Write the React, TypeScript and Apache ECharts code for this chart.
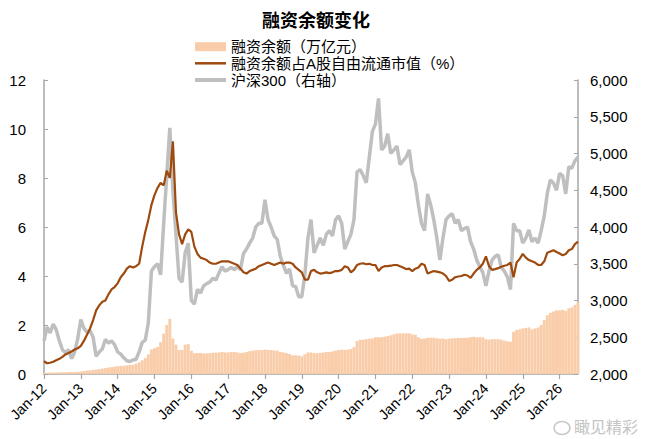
import React, { useEffect, useRef } from "react";
import * as echarts from "echarts";

const MONTHS = ["Jan", "Feb", "Mar", "Apr", "May", "Jun", "Jul", "Aug", "Sep", "Oct", "Nov", "Dec"];
const FIRST_YEAR = 12;
const LAST_YEAR = 26;
const LAST_MONTH_OF_LAST_YEAR = 7;

const categories: string[] = [];
for (let y = FIRST_YEAR; y <= LAST_YEAR; y++) {
  const n = y === LAST_YEAR ? LAST_MONTH_OF_LAST_YEAR : 12;
  for (let m = 0; m < n; m++) categories.push(`${MONTHS[m]}-${y}`);
}

// 融资余额（万亿元） monthly
const marginBalance = [
  0.04, 0.05, 0.06, 0.06, 0.06, 0.07, 0.07, 0.07, 0.08, 0.08, 0.08, 0.09,
  0.10, 0.12, 0.14, 0.15, 0.17, 0.18, 0.20, 0.22, 0.24, 0.26, 0.28, 0.30,
  0.32, 0.33, 0.34, 0.36, 0.37, 0.38, 0.42, 0.48, 0.56, 0.65, 0.80, 1.00,
  1.05, 1.10, 1.30, 1.65, 2.00, 2.25, 1.45, 1.20, 0.98, 0.98, 1.20, 1.22,
  0.95, 0.85, 0.85, 0.86, 0.84, 0.84, 0.85, 0.87, 0.87, 0.88, 0.90, 0.88,
  0.88, 0.90, 0.90, 0.88, 0.86, 0.87, 0.90, 0.93, 0.95, 0.97, 0.98, 0.98,
  1.00, 0.98, 0.98, 0.96, 0.95, 0.90, 0.88, 0.85, 0.82, 0.76, 0.76, 0.75,
  0.72, 0.80, 0.88, 0.88, 0.85, 0.85, 0.86, 0.88, 0.90, 0.90, 0.92, 0.95,
  0.98, 1.00, 0.98, 1.00, 1.02, 1.10, 1.35, 1.40, 1.40, 1.42, 1.44, 1.45,
  1.50, 1.50, 1.50, 1.52, 1.55, 1.58, 1.62, 1.65, 1.66, 1.66, 1.66, 1.66,
  1.62, 1.60, 1.50, 1.43, 1.45, 1.48, 1.48, 1.48, 1.46, 1.44, 1.45, 1.42,
  1.44, 1.46, 1.46, 1.47, 1.47, 1.48, 1.48, 1.50, 1.52, 1.50, 1.50, 1.50,
  1.42, 1.40, 1.42, 1.42, 1.42, 1.40, 1.36, 1.33, 1.32, 1.72, 1.80, 1.82,
  1.86, 1.88, 1.90, 1.82, 1.86, 1.90, 2.00, 2.20, 2.40, 2.50, 2.55, 2.60,
  2.60, 2.62, 2.58, 2.68, 2.72, 2.82, 2.92,
];

// 融资余额占A股自由流通市值（%） monthly
const marginRatio = [
  0.52, 0.44, 0.46, 0.50, 0.56, 0.62, 0.70, 0.80, 0.86, 0.92, 1.00, 1.05,
  1.15, 1.35, 1.60, 1.85, 2.20, 2.60, 2.80, 2.95, 3.00, 3.25, 3.45, 3.55,
  3.70, 3.95, 4.10, 4.30, 4.40, 4.35, 4.40, 4.50, 5.20, 5.80, 6.30, 6.90,
  7.30, 7.60, 7.80, 7.70, 8.30, 8.00, 9.50, 6.60, 5.70, 5.30, 5.70, 5.90,
  5.80, 5.20, 4.90, 4.75, 4.70, 4.65, 4.55, 4.50, 4.50, 4.55, 4.60, 4.60,
  4.60, 4.55, 4.50, 4.45, 4.30, 4.15, 4.10, 4.20, 4.25, 4.30, 4.40, 4.45,
  4.50, 4.55, 4.50, 4.45, 4.50, 4.55, 4.50, 4.55, 4.55, 4.50, 4.35, 4.25,
  4.15, 3.85, 3.85, 4.20, 4.25, 4.15, 4.10, 4.12, 4.15, 4.12, 4.15, 4.20,
  4.20, 4.25, 4.40, 4.35, 4.15, 4.25, 4.45, 4.50, 4.52, 4.48, 4.50, 4.45,
  4.45, 4.20, 4.35, 4.40, 4.40, 4.42, 4.45, 4.45, 4.40, 4.35, 4.28, 4.30,
  4.20, 4.30, 4.35, 4.50, 4.45, 4.10, 4.15, 4.20, 4.18, 4.15, 4.10, 4.00,
  3.80, 3.85, 3.95, 3.98, 4.00, 4.05, 4.02, 3.92, 4.10, 4.25, 4.35, 4.50,
  4.80, 4.40, 4.25, 4.28, 4.32, 4.38, 4.42, 4.45, 4.55, 3.95, 4.55, 4.70,
  4.90, 4.75, 4.65, 4.60, 4.55, 4.45, 4.45, 4.60, 4.95, 5.00, 5.05, 4.98,
  4.92, 4.85, 4.90, 5.05, 5.10, 5.30, 5.40,
];

// 沪深300 monthly
const csi300 = [
  2450, 2640, 2560, 2680, 2600, 2450, 2330, 2290, 2330, 2210, 2300, 2480,
  2740, 2620, 2570, 2590, 2500, 2240, 2300, 2340, 2470, 2420, 2450, 2400,
  2300, 2270, 2220, 2180, 2170, 2190, 2200, 2300, 2430, 2460, 2700, 3400,
  3460, 3500, 3350, 4050, 4700, 5350, 4500, 3900, 3300, 3250, 3650, 3780,
  3000, 2950, 3150, 3100, 3200, 3230, 3250, 3300, 3280, 3370, 3460, 3400,
  3420, 3450, 3420, 3460, 3420, 3640, 3700, 3780, 3850, 4000, 4050, 4050,
  4370, 4100, 4000, 3880, 3830, 3600, 3480, 3370, 3430, 3200, 3190, 3050,
  3050, 3350, 3850, 4100, 3650, 3750, 3850, 3750, 3900, 3950, 3880, 4100,
  4150, 4050, 3700, 3800, 3900, 4100, 4750, 4780, 4700, 4600, 4950, 5300,
  5400, 5750, 5050, 5100, 5270, 5000, 5050, 5100, 4850, 4900, 4950, 5050,
  4750, 4600, 4300, 4050, 3950, 4450, 4300, 4100, 3850, 3550, 3850, 4100,
  4150, 4180, 4050, 4100, 3950, 3980, 4000, 3800, 3700, 3550, 3460, 3380,
  3200, 3400, 3550, 3600, 3620, 3450, 3400, 3320, 3150, 4050, 3950, 3950,
  3780, 3850, 3960, 3800, 3850, 3780, 3950, 4150, 4460, 4640, 4600, 4500,
  4730, 4700, 4450, 4820, 4800, 4900, 4950,
];

const NAME_BAR = "融资余额（万亿元）";
const NAME_RATIO = "融资余额占A股自由流通市值（%）";
const NAME_CSI = "沪深300（右轴）";

const FONT = "'Liberation Sans', 'Noto Sans CJK SC', sans-serif";
const AXIS_COLOR = "#A6A6A6";
const BAR_COLOR = "#F9CDA9";
const BROWN = "#9E4A0E";
const GRAY = "#BFBFBF";

export default function App() {
  const ref = useRef<HTMLDivElement>(null);

  useEffect(() => {
    if (!ref.current) return;
    const chart = echarts.init(ref.current, undefined, { renderer: "svg" });

    const legendBase = {
      left: 195,
      padding: 0,
      icon: "rect",
      itemWidth: 31,
      selectedMode: false,
      textStyle: { fontSize: 15, lineHeight: 16, color: "#000", fontFamily: FONT },
    };

    chart.setOption({
      animation: false,
      backgroundColor: "#fff",
      textStyle: { fontFamily: FONT },
      title: {
        text: "融资余额变化",
        left: 311,
        textAlign: "center",
        top: 7,
        textStyle: { fontSize: 18, fontWeight: "bold", color: "#000", fontFamily: FONT },
      },
      legend: [
        { ...legendBase, data: [NAME_BAR], top: 38.7, itemHeight: 9 },
        { ...legendBase, data: [NAME_RATIO], top: 55.3, itemHeight: 2.5 },
        { ...legendBase, data: [NAME_CSI], top: 72, itemHeight: 4 },
      ],
      grid: { left: 44, right: 72, top: 80, bottom: 65 },
      xAxis: {
        type: "category",
        data: categories,
        boundaryGap: false,
        axisLine: { show: true, lineStyle: { color: AXIS_COLOR, width: 1.5 } },
        axisTick: { show: true, interval: 11, length: 5, lineStyle: { color: AXIS_COLOR, width: 1.2 } },
        axisLabel: {
          interval: 11,
          rotate: 45,
          margin: 12,
          fontSize: 14.5,
          color: "#000",
          fontFamily: FONT,
        },
        splitLine: { show: false },
      },
      yAxis: [
        {
          type: "value",
          min: 0,
          max: 12,
          interval: 2,
          axisLine: { show: true, lineStyle: { color: AXIS_COLOR, width: 1.5 } },
          axisTick: { show: true, inside: true, length: 4, lineStyle: { color: AXIS_COLOR } },
          axisLabel: { fontSize: 15, color: "#000", margin: 18, fontFamily: FONT },
          splitLine: { show: false },
        },
        {
          type: "value",
          min: 2000,
          max: 6000,
          interval: 500,
          position: "right",
          axisLine: { show: true, lineStyle: { color: AXIS_COLOR, width: 1.5 } },
          axisTick: { show: true, inside: true, length: 4, lineStyle: { color: AXIS_COLOR } },
          axisLabel: {
            fontSize: 15,
            color: "#000",
            margin: 12,
            fontFamily: FONT,
            formatter: (v: number) => v.toLocaleString("en-US"),
          },
          splitLine: { show: false },
        },
      ],
      series: [
        {
          name: NAME_BAR,
          type: "bar",
          yAxisIndex: 0,
          data: marginBalance,
          barCategoryGap: "4%",
          itemStyle: { color: BAR_COLOR },
        },
        {
          name: NAME_CSI,
          type: "line",
          yAxisIndex: 1,
          data: csi300,
          showSymbol: false,
          symbol: "none",
          lineStyle: { color: GRAY, width: 3.5 },
          itemStyle: { color: GRAY },
        },
        {
          name: NAME_RATIO,
          type: "line",
          yAxisIndex: 0,
          data: marginRatio,
          showSymbol: false,
          symbol: "none",
          lineStyle: { color: BROWN, width: 2.2 },
          itemStyle: { color: BROWN },
        },
      ],
      graphic: [
        {
          type: "ellipse",
          shape: { cx: 562, cy: 428, rx: 8, ry: 6.5 },
          style: { fill: "none", stroke: "#C8C8C8", lineWidth: 1.6 },
        },
        {
          type: "text",
          left: 574,
          top: 419,
          style: { text: "瞰见精彩", fontSize: 16, fill: "#C4C4C4", fontFamily: FONT },
        },
      ],
    });

    return () => chart.dispose();
  }, []);

  return (
    <div
      ref={ref}
      style={{ position: "fixed", left: 0, top: 0, width: 650, height: 439 }}
    />
  );
}
